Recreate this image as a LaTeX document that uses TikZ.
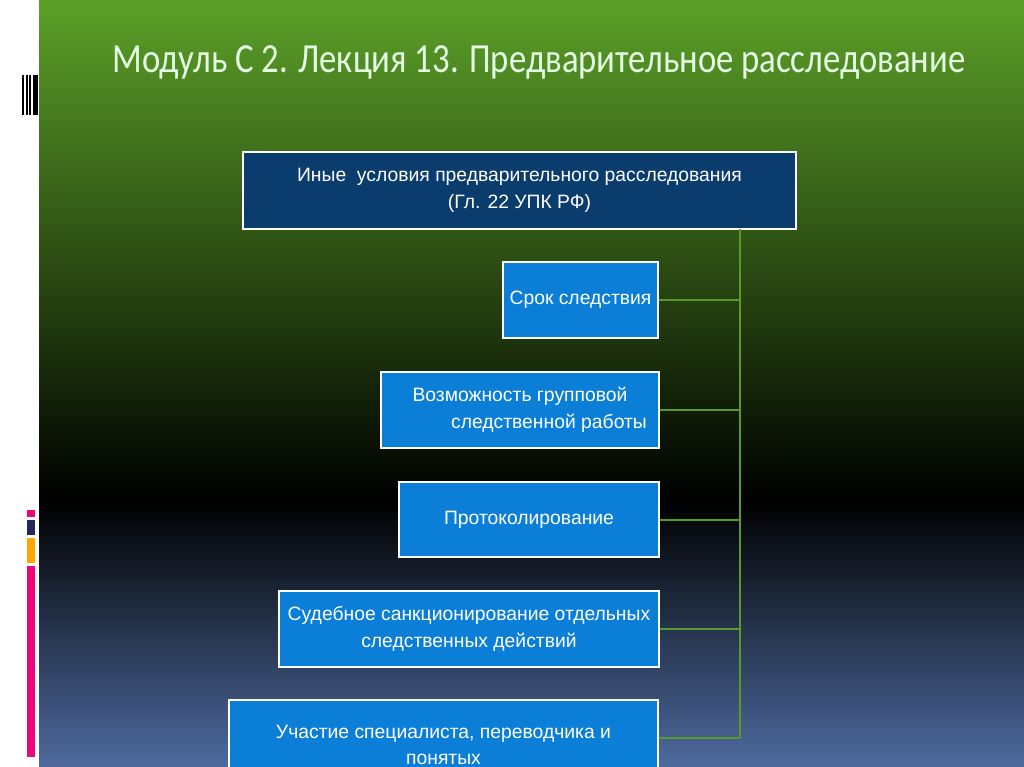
\documentclass[tikz,border=0pt]{standalone}
\usepackage{fontspec}
\usepackage{graphicx}
\setmainfont{Liberation Sans}
\newfontfamily\titlefont{Carlito}
\begin{document}
\begin{tikzpicture}[x=0.75pt,y=-0.75pt,
  bx/.style={draw=white,line width=1.5pt,fill=boxblue,text=white,inner sep=0pt,font=\fontsize{14.5}{20}\selectfont,align=center},
  ln/.style={draw=lgreen,line width=1.3pt}]
\definecolor{boxblue}{HTML}{0B7FD8}
\definecolor{navy}{HTML}{0A3D6E}
\definecolor{lgreen}{HTML}{5A9A2A}
\definecolor{gtop}{HTML}{5CA028}
\definecolor{gbot}{HTML}{4E6A9E}
\useasboundingbox (0,0) rectangle (1024,767);
\fill[white] (0,0) rectangle (39,767);
\shade[top color=gtop,bottom color=black] (39,0) rectangle (1024,500);
\shade[top color=black,bottom color=gbot] (39,500) rectangle (1024,767);
\foreach \a/\b in {22/24,26/28,29/31,33/38} \fill[black] (\a,75) rectangle (\b,115);
\fill[magenta!80!red] (27,510) rectangle (35,517);
\fill[gray!60!blue!50!black] (27,520) rectangle (35,535);
\fill[orange!70!yellow] (27,538) rectangle (35,563);
\fill[magenta!80!red] (27,566) rectangle (35,757);
\node[anchor=west,text=white!90!green,font=\titlefont\fontsize{31}{34}\selectfont] (title) at (108,62) {\scalebox{0.84}[1]{Модуль С 2. Лекция 13. Предварительное расследование}};
\node[bx,fill=navy,minimum width={553*0.75pt},minimum height={77*0.75pt}] (top) at (519.5,190.5) {Иные\ \ условия предварительного расследования\\(Гл. 22 УПК РФ)};
\node[bx,minimum width={155*0.75pt},minimum height={76*0.75pt}] (b1) at (580.5,300) {Срок следствия};
\node[bx,minimum width={278*0.75pt},minimum height={76*0.75pt}] (b2) at (520,410) {Возможность групповой\\\hspace*{3em}следственной работы};
\node[bx,minimum width={260*0.75pt},minimum height={75*0.75pt}] (b3) at (529,519.5) {Протоколирование};
\node[bx,minimum width={380*0.75pt},minimum height={76*0.75pt}] (b4) at (469,629) {Судебное санкционирование отдельных\\следственных действий};
\node[bx,minimum width={429*0.75pt},minimum height={90*0.75pt}] (b5) at (443.5,745) {Участие специалиста, переводчика и\\понятых};
\coordinate (t) at (740,229);
\coordinate (e) at (740,738);
\draw[ln] (t) -- (e);
\foreach \n/\y in {b1/300,b2/410,b3/520,b4/629,b5/738} \draw[ln] (\n.east |- 0,\y) -- (740,\y);
\end{tikzpicture}
\end{document}
